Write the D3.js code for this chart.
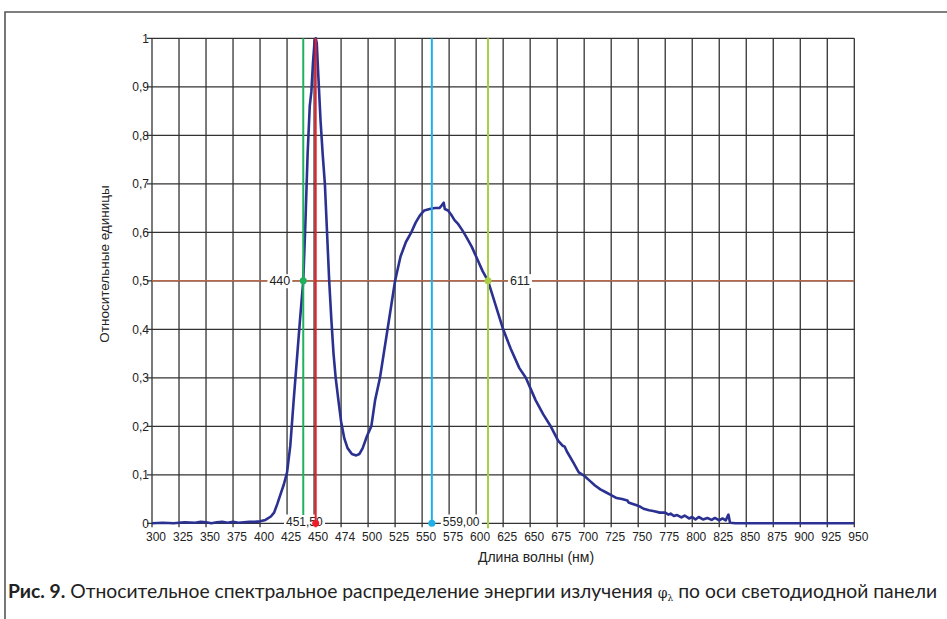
<!DOCTYPE html>
<html>
<head>
<meta charset="utf-8">
<script src="https://cdn.jsdelivr.net/npm/d3@7/dist/d3.min.js"></script>
<style>
  html, body { margin: 0; padding: 0; background: #fff; }
  svg { display: block; }
  text { font-family: "Liberation Sans", Arial, sans-serif; fill: #222; }
</style>
</head>
<body>
<svg id="chart" width="947" height="619"></svg>
<script>
// ---- data ----
const wavelengths = [300,310,320,330,340,345,350,355,360,365,370,375,380,385,390,395,400,405,410,413,416,419,422,425,428,431,434,437,440,442,444,446,447.5,449,450.5,451.5,452.5,454,456,458,460,462,464,466,468,470,472.5,475,478,481,485,489,492,495,499,503,506.5,511,518,525,530,535,540,544,548,552,557,562,566,568,570,571,574,577,580,583,587,591,596,601,606,611,618,625,632,640,646,655,662,669,676,680,682,684,690,695,700,705,710,715,720,725,730,735,740,741,745,750,752,755,760,765,770,775,778,780,783,786,790,793,797,800,803,806,810,814,818,821,825,828,831,833.5,835,840,860,880,900,920,950];
const intensity   = [0.000,0.001,0.000,0.002,0.001,0.003,0.002,0.000,0.002,0.003,0.001,0.003,0.001,0.002,0.003,0.003,0.004,0.007,0.014,0.022,0.040,0.060,0.080,0.105,0.160,0.250,0.335,0.420,0.500,0.620,0.760,0.860,0.890,0.950,0.995,1.000,0.990,0.920,0.830,0.760,0.700,0.600,0.500,0.420,0.350,0.300,0.254,0.210,0.175,0.155,0.143,0.140,0.143,0.155,0.180,0.200,0.254,0.300,0.400,0.500,0.550,0.580,0.600,0.620,0.635,0.645,0.648,0.650,0.650,0.655,0.661,0.648,0.645,0.636,0.625,0.618,0.605,0.590,0.570,0.545,0.520,0.500,0.450,0.400,0.360,0.320,0.300,0.254,0.225,0.200,0.170,0.160,0.158,0.148,0.125,0.105,0.098,0.088,0.078,0.070,0.064,0.058,0.052,0.050,0.047,0.043,0.040,0.036,0.034,0.030,0.027,0.025,0.022,0.022,0.018,0.020,0.015,0.017,0.012,0.016,0.010,0.013,0.008,0.013,0.008,0.011,0.007,0.011,0.006,0.010,0.006,0.018,0.001,0.000,0.000,0.000,0.000,0.000,0.000];

const xTickValues = [300,325,350,375,400,425,450,475,500,525,550,575,600,625,650,675,700,725,750,775,800,825,850,875,900,925,950];
const xTickLabels = ["300","325","350","375","400","425","450","474","500","525","550","575","600","625","650","675","700","725","750","775","800","825","850","875","900","925","950"];
const yTickValues = [0,0.1,0.2,0.3,0.4,0.5,0.6,0.7,0.8,0.9,1];
const yTickLabels = ["0","0,1","0,2","0,3","0,4","0,5","0,6","0,7","0,8","0,9","1"];

// marker lines
const halfLevel = 0.5;
const leftHalf = 440, rightHalf = 611;
const peakBlue = 451.5, peakGreenish = 559.0;
const peakBlueLabel = "451,50", peakGreenLabel = "559,00";
const leftHalfLabel = "440", rightHalfLabel = "611";

const xTitle = "Длина волны (нм)";
const yTitle = "Относительные единицы";
const captionBold = "Рис. 9.";
const captionText = " Относительное спектральное распределение энергии излучения ";
const captionPhi = "φ";
const captionLambda = "λ";
const captionEnd = " по оси светодиодной панели";

// ---- drawing ----
const svg = d3.select("#chart");
const x = d3.scaleLinear().domain([300, 950]).range([152, 854.3]);
const y = d3.scaleLinear().domain([0, 1]).range([523.3, 38.3]);

// frame border
svg.append("path")
  .attr("d", `M5,619 L5,12 L947,12`)
  .attr("fill", "none").attr("stroke", "#555").attr("stroke-width", 1.6);

const gridColor = "#333";
const g = svg.append("g");
// vertical grid
g.selectAll("line.vg").data(xTickValues).join("line")
  .attr("x1", d => x(d)).attr("x2", d => x(d))
  .attr("y1", y(1)).attr("y2", y(0) + 4)
  .attr("stroke", gridColor).attr("stroke-width", 1.3);
// horizontal grid
g.selectAll("line.hg").data(yTickValues).join("line")
  .attr("x1", x(300) - 5).attr("x2", x(950))
  .attr("y1", d => y(d)).attr("y2", d => y(d))
  .attr("stroke", gridColor).attr("stroke-width", 1.3);

// axes (labels)
const xAxis = d3.axisBottom(x).tickValues(xTickValues)
  .tickFormat((d, i) => xTickLabels[i]).tickSize(0).tickPadding(0);
const xa = svg.append("g").attr("transform", `translate(3.5,${y(0) + 9.5})`).call(xAxis);
xa.select(".domain").remove();
xa.selectAll("text").attr("font-size", 12).attr("dy", "0.71em")
  .style("font-family", "Liberation Sans, Arial, sans-serif").attr("fill", "#222");

const yAxis = d3.axisLeft(y).tickValues(yTickValues)
  .tickFormat((d, i) => yTickLabels[i]).tickSize(0).tickPadding(0);
const ya = svg.append("g").attr("transform", `translate(${x(300) - 3},0)`).call(yAxis);
ya.select(".domain").remove();
ya.selectAll("text").attr("font-size", 12)
  .style("font-family", "Liberation Sans, Arial, sans-serif").attr("fill", "#222");

// half level line
svg.append("line")
  .attr("x1", x(300)).attr("x2", x(950))
  .attr("y1", y(halfLevel)).attr("y2", y(halfLevel))
  .attr("stroke", "#b8684a").attr("stroke-width", 1.6);

// labels with white background
function boxLabel(tx, ty, text, anchor, fsz) {
  const t = svg.append("text").attr("x", tx).attr("y", ty)
    .attr("dy", "0.35em").attr("text-anchor", anchor)
    .attr("font-size", fsz).text(text);
  const b = t.node().getBBox();
  svg.insert("rect", () => t.node())
    .attr("x", b.x - 2).attr("y", b.y).attr("width", b.width + 4).attr("height", b.height)
    .attr("fill", "#fff");
}
boxLabel(x(leftHalf) - 13, y(halfLevel), leftHalfLabel, "end", 12.5);
boxLabel(x(rightHalf) + 22, y(halfLevel), rightHalfLabel, "start", 12.5);
boxLabel(x(peakBlue) + 7, y(0) - 2, peakBlueLabel, "end", 12);
boxLabel(x(peakGreenish) + 11, y(0) - 2, peakGreenLabel, "start", 12);

// spectrum curve
const data = wavelengths.map((w, i) => [w, intensity[i]]);
svg.append("path").datum(data)
  .attr("fill", "none").attr("stroke", "#2b3190").attr("stroke-width", 2.6)
  .attr("stroke-linejoin", "round")
  .attr("d", d3.line().x(d => x(d[0])).y(d => y(d[1])));

// vertical marker lines
const markers = [
  {w: leftHalf, c: "#1fb25a", y2: 0.017},
  {w: peakBlue, c: "#ee1c25", y2: -0.008},
  {w: peakGreenish, c: "#1fb0ea", y2: 0},
  {w: rightHalf, c: "#a8cf45", y2: -0.01}
];
svg.selectAll("line.mk").data(markers).join("line")
  .attr("x1", d => x(d.w)).attr("x2", d => x(d.w))
  .attr("y1", y(1)).attr("y2", d => y(d.y2))
  .attr("stroke", d => d.c).attr("stroke-width", 2);

// dots
const dots = [
  {w: leftHalf, v: halfLevel, c: "#1fb25a"},
  {w: rightHalf, v: halfLevel, c: "#a8cf45"},
  {w: peakBlue, v: 0, c: "#ee1c25"},
  {w: peakGreenish, v: 0, c: "#1fb0ea"}
];
svg.selectAll("circle.dot").data(dots).join("circle")
  .attr("cx", d => x(d.w)).attr("cy", d => y(d.v)).attr("r", 3.5)
  .attr("fill", d => d.c);

// titles
svg.append("text").attr("x", 536).attr("y", 562).attr("text-anchor", "middle")
  .attr("font-size", 14).text(xTitle);
svg.append("text").attr("transform", "translate(109,264) rotate(-90)")
  .attr("text-anchor", "middle").attr("font-size", 13.5).text(yTitle);

// caption
const cap = svg.append("text").attr("x", 8).attr("y", 598).attr("font-size", 17)
  .style("font-family", "Lato, 'Open Sans', sans-serif");
cap.append("tspan").attr("font-weight", "bold").text(captionBold);
cap.append("tspan").text(captionText);
cap.append("tspan").style("font-family", "'DejaVu Serif', serif").attr("font-size", 14).text(captionPhi);
cap.append("tspan").style("font-family", "'DejaVu Serif', serif").attr("font-size", 9).attr("dy", 3).text(captionLambda);
cap.append("tspan").attr("dy", -3).text(captionEnd);
// fit caption width to the reference span (8..940)
const w0 = cap.node().getComputedTextLength();
const target = 932;
const fs = 17 * target / w0;
cap.attr("font-size", fs);
</script>
</body>
</html>
